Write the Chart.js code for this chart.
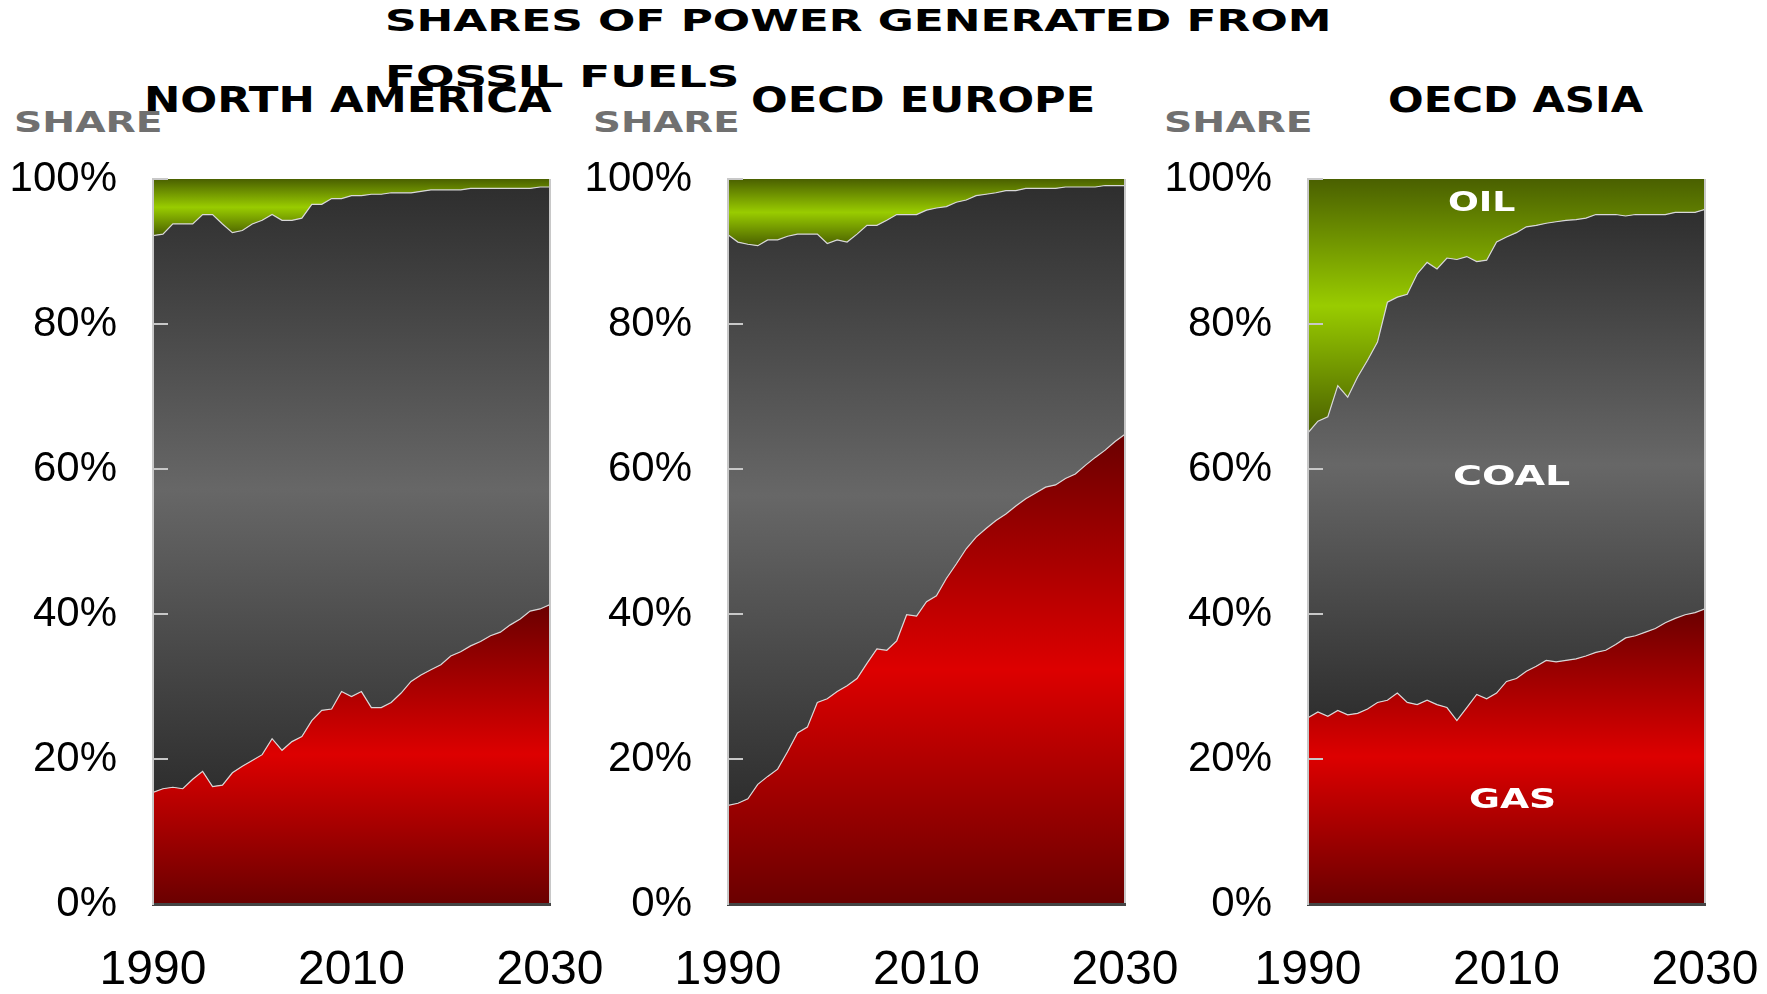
<!DOCTYPE html>
<html>
<head>
<meta charset="utf-8">
<script src="https://cdn.jsdelivr.net/npm/chart.js@4.4.0/dist/chart.umd.min.js"></script>
<style>
  body { margin: 0; width: 1767px; height: 994px; overflow: hidden; background: #fff; position: relative; font-family: "DejaVu Sans", sans-serif; }
  .t { position: absolute; white-space: nowrap; font-weight: bold; transform-origin: 0 50%; }
  canvas { position: absolute; top: 140px; }
</style>
</head>
<body>
<canvas id="na" style="left:0px" width="620" height="854"></canvas>
<canvas id="eu" style="left:575px" width="620" height="854"></canvas>
<canvas id="as" style="left:1155px" width="620" height="854"></canvas>
<script>
const years = [];
for (let y = 1990; y <= 2030; y++) years.push(y);
const xTicks = [1990, 2010, 2030];
const yTicks = [0, 20, 40, 60, 80, 100];

// shares in %, 1990..2030
const naGas = [15.4,15.9,16.1,15.9,17.2,18.3,16.2,16.4,18.1,19.0,19.8,20.6,22.8,21.2,22.4,23.1,25.3,26.7,26.9,29.3,28.6,29.3,27.1,27.1,27.8,29.1,30.7,31.6,32.3,33.0,34.2,34.8,35.6,36.2,37.0,37.5,38.5,39.3,40.4,40.7,41.3];
const naCoal = [76.8,76.5,77.7,77.9,76.6,76.8,78.9,77.4,74.5,73.9,74.0,73.7,72.3,73.1,71.9,71.5,71.2,69.8,70.4,68.0,69.1,68.4,70.8,70.8,70.3,69.0,67.4,66.7,66.2,65.5,64.3,63.7,63.1,62.5,61.7,61.2,60.2,59.4,58.3,58.2,57.6];
const naOil = [7.8,7.6,6.2,6.2,6.2,4.9,4.9,6.2,7.4,7.1,6.2,5.7,4.9,5.7,5.7,5.4,3.5,3.5,2.7,2.7,2.3,2.3,2.1,2.1,1.9,1.9,1.9,1.7,1.5,1.5,1.5,1.5,1.3,1.3,1.3,1.3,1.3,1.3,1.3,1.1,1.1];

const euGas = [13.6,13.9,14.5,16.5,17.6,18.6,21.0,23.6,24.4,27.8,28.3,29.3,30.1,31.1,33.2,35.2,35.0,36.3,39.9,39.7,41.7,42.5,44.9,46.9,49.0,50.6,51.8,52.9,53.8,54.9,55.9,56.7,57.5,57.8,58.7,59.3,60.5,61.6,62.6,63.8,64.8];
const euCoal = [78.7,77.4,76.5,74.3,74.0,73.0,71.1,68.8,68.0,64.6,62.8,62.3,61.2,61.3,60.4,58.4,59.3,58.8,55.2,55.4,54.0,53.5,51.3,49.9,48.1,47.1,46.1,45.2,44.6,43.5,42.8,42.0,41.2,40.9,40.2,39.6,38.4,37.3,36.5,35.3,34.3];
const euOil = [7.7,8.7,9.0,9.2,8.4,8.4,7.9,7.6,7.6,7.6,8.9,8.4,8.7,7.6,6.4,6.4,5.7,4.9,4.9,4.9,4.3,4.0,3.8,3.2,2.9,2.3,2.1,1.9,1.6,1.6,1.3,1.3,1.3,1.3,1.1,1.1,1.1,1.1,0.9,0.9,0.9];

const asGas = [25.7,26.5,25.9,26.7,26.1,26.3,26.9,27.8,28.1,29.1,27.8,27.5,28.1,27.5,27.1,25.3,27.1,28.9,28.3,29.1,30.7,31.1,32.1,32.8,33.6,33.4,33.6,33.8,34.2,34.7,35.0,35.8,36.7,37.0,37.5,38.0,38.8,39.4,39.9,40.2,40.7];
const asCoal = [39.3,40.1,41.3,44.8,43.8,46.4,48.1,49.7,54.9,54.6,56.3,59.4,60.4,60.1,62.0,63.6,62.2,59.7,60.5,62.2,61.3,61.5,61.3,60.8,60.3,60.7,60.7,60.6,60.4,60.4,60.1,59.3,58.2,58.1,57.6,57.1,56.3,56.0,55.5,55.2,55.1];
const asOil = [35.0,33.4,32.8,28.5,30.1,27.3,25.0,22.5,17.0,16.3,15.9,13.1,11.5,12.4,10.9,11.1,10.7,11.4,11.2,8.7,8.0,7.4,6.6,6.4,6.1,5.9,5.7,5.6,5.4,4.9,4.9,4.9,5.1,4.9,4.9,4.9,4.9,4.6,4.6,4.6,4.2];

// gradient over the band's own height: dark - bright - dark
function grad(dark, bright, lo, hi) {
  return ctx => {
    const chart = ctx.chart;
    const y = chart.scales.y;
    if (!chart.chartArea || !y) return bright;
    const top = y.getPixelForValue(hi), bot = y.getPixelForValue(lo);
    if (!isFinite(top) || !isFinite(bot) || top === bot) return bright;
    const g = chart.ctx.createLinearGradient(0, top, 0, bot);
    g.addColorStop(0, dark);
    g.addColorStop(0.5, bright);
    g.addColorStop(1, dark);
    return g;
  };
}

// inward tick marks and right frame line
const frame = {
  id: 'frame',
  afterDatasetsDraw(chart) {
    const { ctx, chartArea: a, scales: { y } } = chart;
    ctx.save();
    ctx.strokeStyle = '#c8c8c8';
    ctx.lineWidth = 2;
    ctx.beginPath();
    ctx.moveTo(a.right, a.top);
    ctx.lineTo(a.right, a.bottom);
    y.ticks.forEach(t => {
      const py = y.getPixelForValue(t.value);
      ctx.moveTo(a.left, py);
      ctx.lineTo(a.left + 15, py);
    });
    ctx.stroke();
    ctx.restore();
  }
};

function noPad(s) {
  s.paddingTop = 0; s.paddingBottom = 0; s.paddingLeft = 0; s.paddingRight = 0;
}

function makeChart(id, gas, coal, oil) {
  const cum = gas.map((g, i) => g + coal[i]);
  const pts = arr => arr.map((v, i) => ({ x: years[i], y: v }));
  const base = { pointRadius: 0, tension: 0, borderColor: '#d8d8d8', borderWidth: 1.2 };
  new Chart(document.getElementById(id), {
    type: 'line',
    data: {
      datasets: [
        { ...base, label: 'Gas', data: pts(gas), fill: 'origin',
          backgroundColor: grad('#6a0000', '#dd0000', 0, Math.max(...gas)) },
        { ...base, label: 'Coal', data: pts(coal), fill: '-1',
          backgroundColor: grad('#2e2e2e', '#676767', Math.min(...gas), Math.max(...cum)) },
        { ...base, label: 'Oil', data: pts(oil), fill: '-1', borderWidth: 0,
          backgroundColor: grad('#4a6000', '#99cc00', Math.min(...cum), 100) }
      ]
    },
    options: {
      responsive: false,
      animation: false,
      layout: { padding: { top: 39, right: 70, bottom: 0, left: 0 } },
      plugins: { legend: { display: false }, tooltip: { enabled: false } },
      scales: {
        x: {
          type: 'linear', min: 1990, max: 2030,
          grid: { display: false, drawTicks: false },
          border: { color: '#444', width: 3, z: 1 },
          afterBuildTicks: s => { s.ticks = xTicks.map(v => ({ value: v })); },
          afterFit: s => { s.height = 90; noPad(s); },
          ticks: {
            padding: 38, maxRotation: 0, color: '#000',
            font: { family: '"Liberation Sans Narrow", "Arial Narrow", "Liberation Sans", sans-serif', size: 48, lineHeight: 1.2 },
            callback: v => String(v)
          }
        },
        y: {
          stacked: true, min: 0, max: 100,
          grid: { display: false, drawTicks: false },
          border: { color: '#c8c8c8', width: 2, z: 1 },
          afterBuildTicks: s => { s.ticks = yTicks.map(v => ({ value: v })); },
          afterFit: s => { s.width = 153; noPad(s); },
          ticks: {
            padding: 36, color: '#000',
            font: { family: '"Liberation Sans", Arial, sans-serif', size: 42 },
            callback: v => v + '%'
          }
        }
      }
    },
    plugins: [frame]
  });
}

makeChart('na', naGas, naCoal, naOil);
makeChart('eu', euGas, euCoal, euOil);
makeChart('as', asGas, asCoal, asOil);

function place(text, left, width, cy, size, color) {
  const el = document.createElement('div');
  el.className = 't';
  el.textContent = text;
  el.style.fontSize = size + 'px';
  el.style.lineHeight = size + 'px';
  el.style.color = color;
  el.style.left = left + 'px';
  el.style.top = (cy - size / 2) + 'px';
  document.body.appendChild(el);
  el.style.transform = 'scaleX(' + (width / el.offsetWidth) + ')';
}

place('SHARES OF POWER GENERATED FROM', 385, 947, 21, 30, '#000');
place('FOSSIL FUELS', 385, 355, 77, 30, '#000');
place('NORTH AMERICA', 144, 408, 100, 36, '#000');
place('OECD EUROPE', 751, 344, 100, 36, '#000');
place('OECD ASIA', 1388, 255, 100, 36, '#000');
place('SHARE', 14, 149, 122, 29, '#707070');
place('SHARE', 593, 147, 122, 29, '#707070');
place('SHARE', 1164, 149, 122, 29, '#707070');
place('OIL', 1448, 67, 202, 26, '#fff');
place('COAL', 1453, 117, 476, 26, '#fff');
place('GAS', 1469, 87, 799, 26, '#fff');
</script>
</body>
</html>
